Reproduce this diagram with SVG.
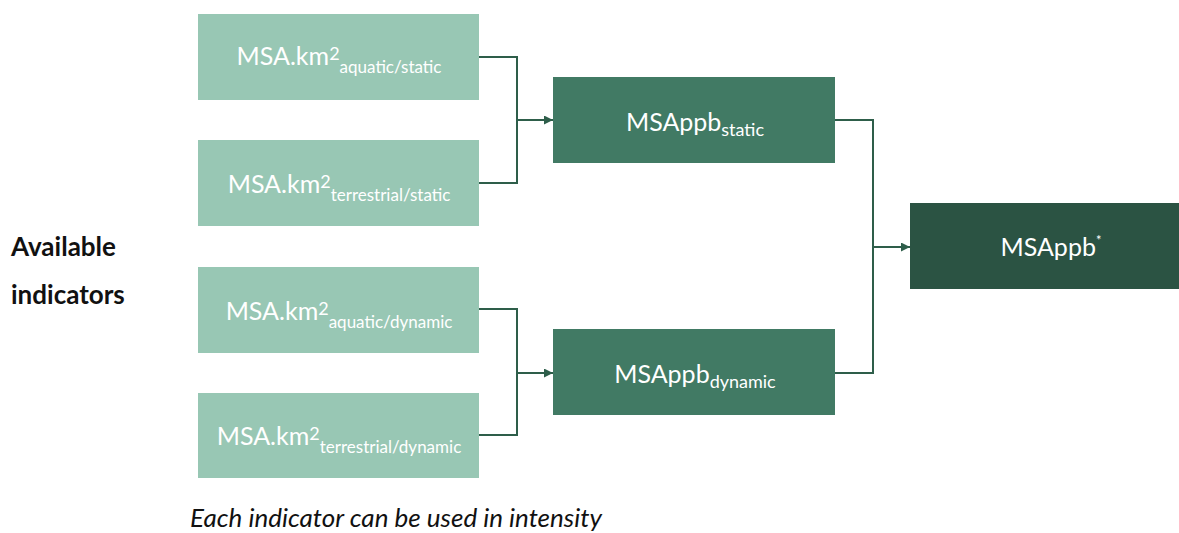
<svg xmlns="http://www.w3.org/2000/svg" width="1179" height="533" viewBox="0 0 1179 533">
<style>
.light{fill:#98c7b4}
.mid{fill:#417a64}
.dark{fill:#2b5343}
.t{font-family:Lato,"Open Sans","Liberation Sans",sans-serif;fill:#ffffff;text-anchor:middle}
.big{font-size:25px}
.sub{font-size:17px}
.sub2{font-size:18px}
.sup{font-size:18px}
.conn{fill:none;stroke:#2e5e4a;stroke-width:2}
.lbl{font-family:Lato,"Open Sans","Liberation Sans",sans-serif;fill:#111111;font-size:26px}
</style>
<defs>
<marker id="ah" viewBox="0 0 10 10" refX="10" refY="5" markerWidth="9" markerHeight="9" markerUnits="userSpaceOnUse" orient="auto">
<path d="M0,0 L10,5 L0,10 z" fill="#2e5e4a"/>
</marker>
</defs>
<g id="connectors">
<path class="conn" d="M479,57 H517 V183 H479"/>
<path class="conn" d="M517,120 H553" marker-end="url(#ah)"/>
<path class="conn" d="M479,309 H517 V435 H479"/>
<path class="conn" d="M517,373 H553" marker-end="url(#ah)"/>
<path class="conn" d="M835,120 H873 V373 H835"/>
<path class="conn" d="M873,247 H910" marker-end="url(#ah)"/>
</g>
<g id="n1">
<rect class="light" x="198" y="14" width="281" height="86"/>
<text class="t big" x="339" y="65">MSA.km<tspan class="sup" dy="-5">2</tspan><tspan class="sub" dy="13">aquatic/static</tspan></text>
</g>
<g id="n2">
<rect class="light" x="198" y="140" width="281" height="86"/>
<text class="t big" x="339" y="193">MSA.km<tspan class="sup" dy="-5">2</tspan><tspan class="sub" dy="13">terrestrial/static</tspan></text>
</g>
<g id="n3">
<rect class="light" x="198" y="267" width="281" height="86"/>
<text class="t big" x="339" y="320">MSA.km<tspan class="sup" dy="-5">2</tspan><tspan class="sub" dy="13">aquatic/dynamic</tspan></text>
</g>
<g id="n4">
<rect class="light" x="198" y="393" width="281" height="85"/>
<text class="t big" x="339" y="445">MSA.km<tspan class="sup" dy="-5">2</tspan><tspan class="sub" dy="13">terrestrial/dynamic</tspan></text>
</g>
<g id="n5">
<rect class="mid" x="553" y="77" width="282" height="86"/>
<text class="t big" x="695" y="131">MSAppb<tspan class="sub2" dy="5">static</tspan></text>
</g>
<g id="n6">
<rect class="mid" x="553" y="329" width="282" height="86"/>
<text class="t big" x="695" y="383">MSAppb<tspan class="sub2" dy="5">dynamic</tspan></text>
</g>
<g id="n7">
<rect class="dark" x="910" y="203" width="269" height="86"/>
<text class="t big" x="1051" y="256">MSAppb<tspan font-size="13" dy="-11">*</tspan></text>
</g>
<g id="labels">
<text class="lbl" x="11" y="256" font-weight="bold">Available</text>
<text class="lbl" x="11" y="304" font-weight="bold">indicators</text>
<text class="lbl" x="190" y="527" font-style="italic">Each indicator can be used in intensity</text>
</g>
</svg>
